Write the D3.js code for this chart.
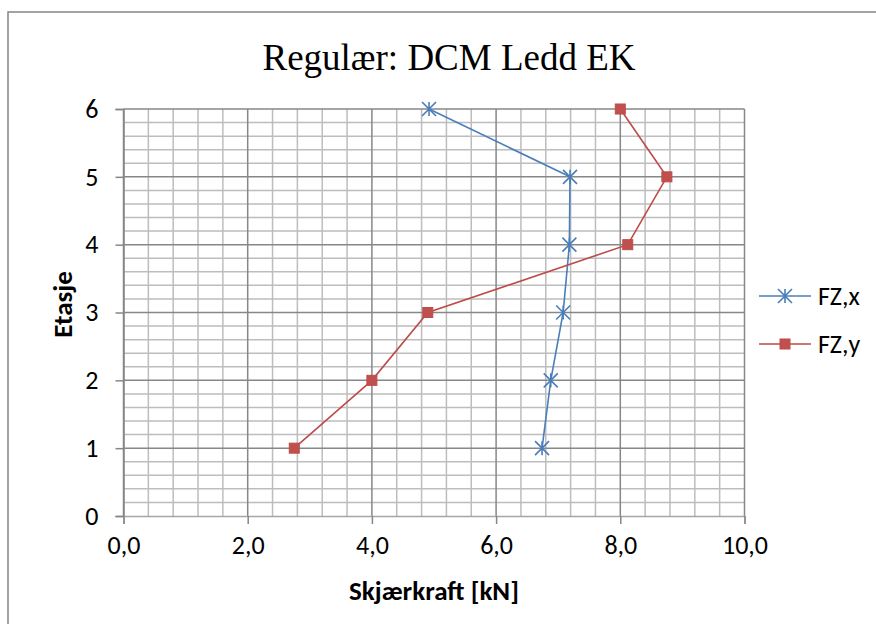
<!DOCTYPE html>
<html>
<head>
<meta charset="utf-8">
<script src="https://cdn.jsdelivr.net/npm/d3@7"></script>
<style>
  html, body { margin: 0; padding: 0; background: #fff; }
  svg { display: block; }
  .tick-label { font-family: Carlito, Calibri, Lato, "Open Sans", sans-serif; font-size: 26px; fill: #000; }
  .axis-title { font-family: Carlito, Calibri, Lato, "Open Sans", sans-serif; font-size: 27px; font-weight: bold; fill: #000; }
  .legend-label { font-family: Carlito, Calibri, Lato, "Open Sans", sans-serif; font-size: 26px; fill: #000; }
  .chart-title { font-family: "Liberation Serif", "Times New Roman", serif; font-size: 37px; fill: #000; }
</style>
</head>
<body>
<svg id="chart" width="876" height="624"></svg>
<script>
// Storey numbers (vertical axis) and shear forces per storey, kN
const floors = [1, 2, 3, 4, 5, 6];
const fzX = [6.74, 6.88, 7.08, 7.18, 7.19, 4.92];
const fzY = [2.75, 4.00, 4.90, 8.12, 8.75, 8.00];

const seriesNames = ["FZ,x", "FZ,y"];
const xTicks = [0, 2, 4, 6, 8, 10];
const yTicks = [0, 1, 2, 3, 4, 5, 6];

const titleText = "Regulær: DCM Ledd EK";
const xTitle = "Skjærkraft [kN]";
const yTitle = "Etasje";

const blue = "#4A7EBB";
const red = "#BE4B48";
const majorGrid = "#878787";
const minorGrid = "#BDBDBD";

const svg = d3.select("#chart");

// Outer chart frame
svg.append("rect")
  .attr("x", 8).attr("y", 12)
  .attr("width", 900).attr("height", 700)
  .attr("fill", "#fff")
  .attr("stroke", "#8C8C8C")
  .attr("stroke-width", 1.6);

const plot = { left: 123.5, right: 744.5, top: 109, bottom: 516 };

const x = d3.scaleLinear().domain([0, 10]).range([plot.left, plot.right]);
const y = d3.scaleLinear().domain([0, 6]).range([plot.bottom, plot.top]);

const locale = d3.formatLocale({ decimal: ",", thousands: " ", grouping: [3], currency: ["", " kr"] });
const fmt = locale.format(".1f");

// Gridlines: minor first, then major on top
const grid = svg.append("g");
const xMinor = d3.range(0, 10.0001, 0.4).filter(v => Math.abs(v / 2 - Math.round(v / 2)) > 1e-6);
const yMinor = d3.range(0, 6.0001, 0.2).filter(v => Math.abs(v - Math.round(v)) > 1e-6);

grid.selectAll(".xminor").data(xMinor).join("line")
  .attr("x1", d => x(d)).attr("x2", d => x(d))
  .attr("y1", plot.top).attr("y2", plot.bottom)
  .attr("stroke", minorGrid).attr("stroke-width", 1.5);
grid.selectAll(".yminor").data(yMinor).join("line")
  .attr("x1", plot.left).attr("x2", plot.right)
  .attr("y1", d => y(d)).attr("y2", d => y(d))
  .attr("stroke", minorGrid).attr("stroke-width", 1.5);
grid.selectAll(".xmajor").data(xTicks).join("line")
  .attr("x1", d => x(d)).attr("x2", d => x(d))
  .attr("y1", plot.top).attr("y2", plot.bottom)
  .attr("stroke", majorGrid).attr("stroke-width", 1.5);
grid.selectAll(".ymajor").data(yTicks.filter(d => d > 0)).join("line")
  .attr("x1", plot.left).attr("x2", plot.right)
  .attr("y1", d => y(d)).attr("y2", d => y(d))
  .attr("stroke", majorGrid).attr("stroke-width", 1.5);

// Axes
const xAxis = d3.axisBottom(x).tickValues(xTicks).tickFormat(fmt).tickSize(8).tickPadding(12);
const yAxis = d3.axisLeft(y).tickValues(yTicks).tickFormat(d3.format("d")).tickSize(8).tickPadding(17);

const gx = svg.append("g").attr("transform", `translate(0,${plot.bottom})`).call(xAxis);
const gy = svg.append("g").attr("transform", `translate(${plot.left},0)`).call(yAxis);

[gx, gy].forEach(g => {
  g.attr("font-family", null).attr("font-size", null);
  g.select(".domain").attr("stroke", majorGrid).attr("stroke-width", 1.5);
  g.selectAll(".tick line").attr("stroke", majorGrid).attr("stroke-width", 1.5);
  g.selectAll(".tick text").attr("class", "tick-label");
});
gx.select(".domain").attr("stroke", "#A6A6A6");

// Titles
svg.append("text").attr("class", "chart-title")
  .attr("x", 449).attr("y", 70).attr("text-anchor", "middle").text(titleText);
svg.append("text").attr("class", "axis-title")
  .attr("x", (plot.left + plot.right) / 2).attr("y", 600).attr("text-anchor", "middle").text(xTitle);
svg.append("text").attr("class", "axis-title")
  .attr("transform", `translate(72,${(plot.top + plot.bottom) / 2 - 8}) rotate(-90)`)
  .attr("text-anchor", "middle").text(yTitle);

// Marker drawers
function starPath(s) {
  return `M0,${-s}V${s}M${-s},${-s}L${s},${s}M${-s},${s}L${s},${-s}`;
}
function drawStar(g, cx, cy) {
  g.append("path").attr("d", starPath(7)).attr("transform", `translate(${cx},${cy})`)
    .attr("fill", "none").attr("stroke", blue).attr("stroke-width", 1.6);
}
function drawSquare(g, cx, cy) {
  g.append("rect").attr("x", cx - 5).attr("y", cy - 5).attr("width", 10).attr("height", 10)
    .attr("fill", "#C0504D").attr("stroke", red).attr("stroke-width", 1);
}

const line = d3.line().x(d => x(d[0])).y(d => y(d[1]));
const ptsX = fzX.map((v, i) => [v, floors[i]]);
const ptsY = fzY.map((v, i) => [v, floors[i]]);

const series = svg.append("g");
series.append("path").attr("d", line(ptsX)).attr("fill", "none").attr("stroke", blue).attr("stroke-width", 1.6);
series.append("path").attr("d", line(ptsY)).attr("fill", "none").attr("stroke", red).attr("stroke-width", 1.6);
ptsX.forEach(p => drawStar(series, x(p[0]), y(p[1])));
ptsY.forEach(p => drawSquare(series, x(p[0]), y(p[1])));

// Legend
const legend = svg.append("g");
const legendRows = [
  { name: seriesNames[0], color: blue, marker: drawStar, y: 296 },
  { name: seriesNames[1], color: red, marker: drawSquare, y: 344 }
];
legendRows.forEach(r => {
  legend.append("line").attr("x1", 759).attr("x2", 811).attr("y1", r.y).attr("y2", r.y)
    .attr("stroke", r.color).attr("stroke-width", 1.6);
  r.marker(legend, 785, r.y);
  legend.append("text").attr("class", "legend-label").attr("x", 818).attr("y", r.y + 9).text(r.name);
});
</script>
</body>
</html>
